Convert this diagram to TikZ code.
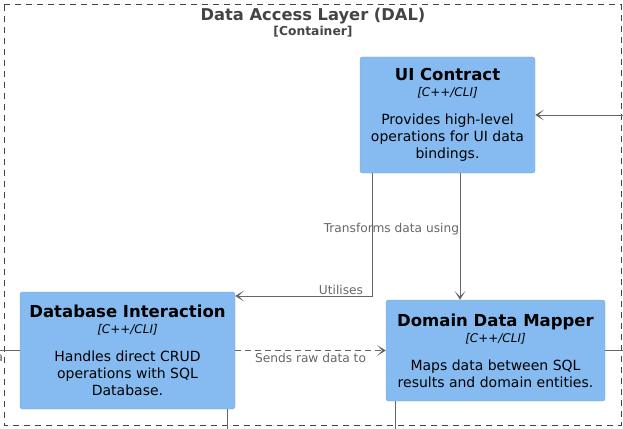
\documentclass[tikz,border=0pt]{standalone}
\usepackage{fontspec}
\setmainfont{DejaVu Sans}
\usepackage{tikz}
\usetikzlibrary{arrows.meta}
\definecolor{compfill}{HTML}{85BBF0}
\definecolor{compline}{HTML}{78A8D8}
\definecolor{relgray}{HTML}{666666}
\definecolor{boundgray}{HTML}{444444}

\begin{document}
\begin{tikzpicture}[x=1pt, y=-1pt,
	component/.style={draw=compline, fill=compfill, rounded corners=2.5pt, align=center, text=black,
	  font=\fontsize{14}{17}\selectfont, inner sep=0pt},
	rel/.style={draw=relgray, line width=1pt, -{Stealth[length=9pt,width=11pt,inset=5.5pt]}},
	relline/.style={draw=relgray, line width=1pt},
	rellabel/.style={text=relgray, font=\fontsize{12.2}{14}\selectfont, inner sep=1.5pt}]
	\useasboundingbox (0,0) rectangle (623,428);
	\clip (0,0) rectangle (623,428);
	\draw[color=boundgray, line width=1pt, dash pattern=on 6pt off 5pt] (4,5) rectangle (621,425);
	\node[text=boundgray, font=\fontsize{16.3}{18}\selectfont\bfseries] (dal) at (313,16) {Data Access Layer (DAL)};
	\node[text=boundgray, font=\fontsize{12.3}{14}\selectfont\bfseries] (dalkind) at (313,32) {[Container]};
	\node[component, minimum width=175pt, minimum height=116pt] (ui) at (447.5,115) {{\fontsize{16.5}{17}\selectfont\bfseries UI Contract}\\[-1pt]
	  {\fontsize{12}{15}\selectfont\itshape [C++/CLI]}\\[11pt]
	  Provides high-level\\ operations for UI data\\ bindings.};
	\node[component, minimum width=215pt, minimum height=117pt] (dbi) at (127.5,350.5) {{\fontsize{16.5}{17}\selectfont\bfseries Database Interaction}\\[-1pt]
	  {\fontsize{12}{15}\selectfont\itshape [C++/CLI]}\\[11pt]
	  Handles direct CRUD\\ operations with SQL\\ Database.};
	\node[component, minimum width=219pt, minimum height=101pt] (ddm) at (495.5,350.5) {{\fontsize{16.5}{17}\selectfont\bfseries Domain Data Mapper}\\[-1pt]
	  {\fontsize{12}{15}\selectfont\itshape [C++/CLI]}\\[11pt]
	  Maps data between SQL\\ results and domain entities.};
	\coordinate (uiin) at (640,115);
	\coordinate (dbiout) at (-20,350.5);
	\coordinate (dbidown) at (227,440);
	\coordinate (ddmout) at (640,350.5);
	\coordinate (ddmdown) at (395,440);
	\draw[rel] (uiin) -- (ui.east) node[rellabel, pos=0.1, anchor=north west, xshift=-1pt] {Interacts with};
	\draw[rel] ([xshift=-75.5pt]ui.south) |- ([yshift=54.5pt]dbi.east) node[rellabel, pos=0.5, anchor=south east, xshift=-7pt, yshift=-1pt] {Utilises};
	\draw[rel] ([xshift=12.5pt]ui.south) -- ([xshift=12.5pt]ui.south |- ddm.north) node[rellabel, pos=0.44, anchor=east, xshift=1pt] {Transforms data using};
	\draw[rel, dashed, dash pattern=on 6pt off 4pt] (dbi.east) -- (ddm.west) node[rellabel, pos=0.5, anchor=north, yshift=-1pt] {Sends raw data to};
	\draw[relline] (dbi.west) -- (dbiout) node[rellabel, pos=1, anchor=north east, xshift=25pt] {Reads data};
	\draw[relline] (ddm.east) -- (ddmout);
	\draw[relline] ([xshift=99.5pt]dbi.south) -- (dbidown);
	\draw[relline] ([xshift=-100.5pt]ddm.south) -- (ddmdown);
\end{tikzpicture}
\end{document}
